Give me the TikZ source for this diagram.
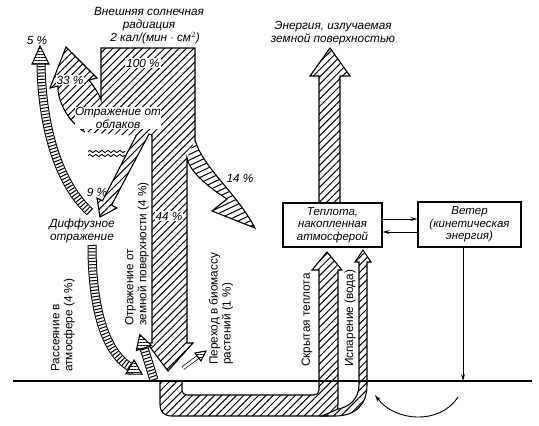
\documentclass[tikz,border=0pt]{standalone}
\usepackage{fontspec}
\setmainfont{Liberation Sans}
\usetikzlibrary{patterns.meta,arrows.meta,decorations.pathmorphing}
\begin{document}
\begin{tikzpicture}[x=1pt,y=-1pt,
  lbl/.style={font=\fontsize{11.8}{13}\selectfont\itshape, align=center, inner sep=1pt},
  wlbl/.style={lbl, fill=white},
  rlbl/.style={font=\fontsize{11.8}{13}\selectfont, align=left, rotate=90, anchor=west, inner sep=1pt},
  box/.style={draw, line width=1.1pt, fill=white, font=\fontsize{11.5}{12.5}\selectfont\itshape, align=center, inner sep=1pt},
  hatchA/.style={pattern={Lines[angle=45,distance=5.2pt,line width=1pt]}},
  hatchH/.style={pattern={Lines[angle=0,distance=3pt,line width=0.8pt]}},
  outl/.style={line width=1.1pt, line join=miter},
  ladout/.style={line width=1pt, double distance=7pt},
  ladrung/.style={line width=7pt, dash pattern=on 1pt off 2.2pt},
  headst/.style={outl, preaction={fill=white}, hatchH},
  conn/.style={line width=0.9pt, -{Stealth[length=7pt,width=4pt]}}
]
\useasboundingbox (0,0) rectangle (539,426);

% ---- main solar flux shape ----
\def\mainfill{(101,48) -- (195,48) -- (195,140) -- (187,158) -- (187,343) -- (193,343) -- (168,371) -- (147,343) -- (152,343) -- (152,135) -- (149,134) -- (111.5,205.2) -- (117,208) -- (100,217) -- (97,198) -- (102.5,200.8) -- (136,136) -- (85,132) .. controls (68,122) and (57,100) .. (58,86) -- (50,88) -- (66,47) -- (97,78) -- (89,80) .. controls (95,88) and (99,94) .. (101,100) -- cycle}
\def\fourteen{(195,140) .. controls (203,168) and (236,192) .. (255,228) -- (212,211) -- (227,199) .. controls (205,185) and (189,170) .. (187,158) -- cycle}
\fill[hatchA] \mainfill;
\begin{scope}
  \clip \fourteen;
  \foreach \c in {130,135.6,...,330}
    \draw[line width=1pt] (170,\c) -- (280,\c-52);
\end{scope}
\draw[outl] (85,132) .. controls (68,122) and (57,100) .. (58,86) -- (50,88) -- (66,47) -- (97,78) -- (89,80) .. controls (95,88) and (99,94) .. (101,100) -- (101,48) -- (195,48) -- (195,140) .. controls (203,168) and (236,192) .. (255,228) -- (212,211) -- (227,199) .. controls (205,185) and (189,170) .. (187,158) -- (187,343) -- (193,343) -- (168,371) -- (147,343) -- (152,343) -- (152,135) -- (149,134) -- (111.5,205.2) -- (117,208) -- (100,217) -- (97,198) -- (102.5,200.8) -- (136,136);

% cloud symbol
\foreach \yy in {151.5,155.5}
  \draw[line width=0.9pt, decorate, decoration={snake, amplitude=1.1pt, segment length=6pt}] (88,\yy) -- (125,\yy);

% ---- 5 % arrow ----
\draw[ladout] (90,212) .. controls (60,185) and (42,130) .. (41,64);
\draw[ladrung] (90,212) .. controls (60,185) and (42,130) .. (41,64);
\draw[headst] (32,64) -- (40,46) -- (49,64) -- cycle;

% ---- scattering 4 % arrow ----
\draw[ladout] (92,245) .. controls (92,320) and (110,355) .. (130,367);
\draw[ladrung] (92,245) .. controls (92,320) and (110,355) .. (130,367);
\draw[headst] (125.9,373.9) -- (142,374.2) -- (134.1,360.1) -- cycle;

% ---- reflection from ground arrow ----
\draw[ladout] (154,380) -- (144,348);
\draw[ladrung] (154,380) -- (144,348);
\draw[headst] (151.6,345.6) -- (139.8,334.6) -- (136.4,350.4) -- cycle;

% ---- biomass arrow ----
\draw[line width=0.7pt, double distance=2.5pt] (183,368) -- (198,357);
\draw[headst] (201,361) -- (206,351) -- (195,353) -- cycle;

% ---- ground line ----
\coordinate (gl) at (13,381);
\coordinate (gr) at (532,381);

% ---- U band (latent heat) ----
\def\uband{(160,381) -- (160,404) .. controls (160,412) and (164,416) .. (172,416) -- (326,416) .. controls (334,416) and (338,412) .. (338,404) -- (338,270) -- (342,270) -- (327,252) -- (312,270) -- (319,270) -- (319,390) .. controls (319,393) and (317,395) .. (314,395) -- (187,395) .. controls (184,395) and (182,393) .. (182,390) -- (182,381)}
\fill[hatchA] \uband -- cycle;
\draw[outl] \uband;
% evaporation band
\def\tband{(322,416) -- (335,416) .. controls (355,416) and (367,405) .. (367,385) -- (367,262) -- (371,262) -- (363,250) -- (355,262) -- (359,262) -- (359,385) .. controls (359,398) and (350,407) .. (338,409) -- cycle}
\path[preaction={fill=white}, hatchA] \tband;
\draw[outl] \tband;

\draw[line width=1.1pt] (gl) -- (gr);

% ---- emitted energy arrow ----
\path[hatchA] (319,203) -- (319,76) -- (310,76) -- (330,48) -- (350,76) -- (340,76) -- (340,203) -- cycle;
\draw[outl] (319,203) -- (319,76) -- (310,76) -- (330,48) -- (350,76) -- (340,76) -- (340,203);

% ---- boxes ----
\node[box, minimum width=99pt, minimum height=44pt] (heat) at (332.5,225) {Теплота,\\накопленная\\атмосферой};
\node[box, minimum width=103pt, minimum height=45pt] (wind) at (469.5,224.5) {Ветер\\(кинетическая\\энергия)};
\draw[conn] ([yshift=6pt]heat.east) -- ([yshift=5.5pt]wind.west);
\draw[conn] ([yshift=-7.5pt]wind.west) -- ([yshift=-7pt]heat.east);
\coordinate (wg) at (463,381);
\draw[conn] (wind.south -| wg) -- (wg);

% ---- circulation arrow ----
\coordinate (ca) at (458,397);
\coordinate (cb) at (375,395);
\draw[conn] (ca) .. controls (440,425) and (395,422) .. (cb);

% ---- labels ----
\node[lbl] (t1) at (149,26) {Внешняя солнечная\\радиация\\\hspace*{12pt}2 кал/(мин $\cdot$ см$^2$)};
\node[lbl] (t2) at (333,33) {Энергия, излучаемая\\земной поверхностью};
\node[lbl] (p5) at (37,40) {5 \%};
\node[wlbl] (p33) at (70,80) {33 \%};
\node[wlbl] (p100) at (143,63) {100 \%};
\node[wlbl, inner sep=0.5pt] (cl) at (118,118) {Отражение от\\облаков};
\node[lbl] (p9) at (97,192) {9 \%};
\node[lbl] (p14) at (240,178) {14 \%};
\node[wlbl] (p44) at (169,216) {44 \%};
\node[lbl] (dif) at (82,231) {Диффузное\\отражение};
\node[rlbl] (sc) at (63,373) {Рассеяние в\\атмосфере (4 \%)};
\node[rlbl] (rg) at (137,327) {Отражение от\\земной поверхности (4 \%)};
\node[rlbl] (bio) at (221,366) {Переход в биомассу\\растений (1 \%)};
\node[rlbl] (lat) at (307,368) {Скрытая теплота};
\node[rlbl] (ev) at (350,368) {Испарение (вода)};
\end{tikzpicture}
\end{document}
